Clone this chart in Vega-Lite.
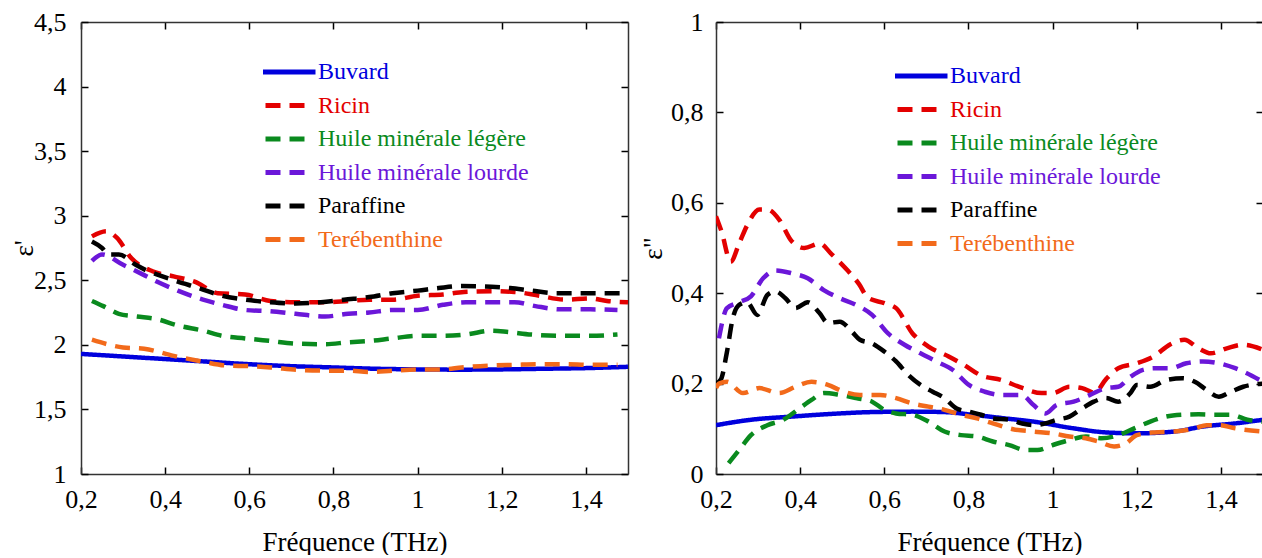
{
  "$schema": "https://vega.github.io/schema/vega-lite/v6.json",
  "padding": {"left": 10, "top": 9, "right": 0, "bottom": 0},
  "autosize": {"type": "pad"},
  "background": "white",
  "config": {
    "font": "Liberation Serif, Times New Roman, DejaVu Serif, serif",
    "view": {"stroke": null},
    "axis": {
      "grid": false,
      "tickColor": "#000",
      "tickWidth": 1.5,
      "tickSize": -7,
      "domainColor": "#333",
      "domainWidth": 1.5,
      "labelFont": "Liberation Serif, Times New Roman, DejaVu Serif, serif",
      "labelFontSize": 26,
      "labelColor": "#000",
      "titleFont": "Liberation Serif, Times New Roman, DejaVu Serif, serif",
      "titleFontSize": 27,
      "titleFontWeight": "normal",
      "titleColor": "#000",
      "labelFlush": false,
      "labelOverlap": false,
      "labelBound": false
    },
    "legend": {
      "labelFont": "Liberation Serif, Times New Roman, DejaVu Serif, serif",
      "labelFontSize": 24,
      "labelLimit": 500,
      "symbolType": "stroke",
      "symbolStrokeWidth": 5,
      "symbolSize": 400,
      "rowPadding": 9.5,
      "clipHeight": 24,
      "labelOffset": 8,
      "padding": 0,
      "title": null,
      "orient": "none"
    }
  },
  "datasets": {
    "e1": [
      {"s": "Buvard", "f": 0.2, "v": 1.93}, {"s": "Buvard", "f": 0.3, "v": 1.91}, {"s": "Buvard", "f": 0.4, "v": 1.89}, {"s": "Buvard", "f": 0.5, "v": 1.87}, {"s": "Buvard", "f": 0.6, "v": 1.85}, {"s": "Buvard", "f": 0.7, "v": 1.835}, {"s": "Buvard", "f": 0.8, "v": 1.825}, {"s": "Buvard", "f": 0.9, "v": 1.815}, {"s": "Buvard", "f": 1.0, "v": 1.81}, {"s": "Buvard", "f": 1.1, "v": 1.808}, {"s": "Buvard", "f": 1.2, "v": 1.81}, {"s": "Buvard", "f": 1.3, "v": 1.815}, {"s": "Buvard", "f": 1.4, "v": 1.82}, {"s": "Buvard", "f": 1.5, "v": 1.83},
      {"s": "Ricin", "f": 0.226, "v": 2.84}, {"s": "Ricin", "f": 0.26, "v": 2.88}, {"s": "Ricin", "f": 0.285, "v": 2.83}, {"s": "Ricin", "f": 0.32, "v": 2.67}, {"s": "Ricin", "f": 0.37, "v": 2.57}, {"s": "Ricin", "f": 0.42, "v": 2.53}, {"s": "Ricin", "f": 0.47, "v": 2.49}, {"s": "Ricin", "f": 0.525, "v": 2.4}, {"s": "Ricin", "f": 0.59, "v": 2.39}, {"s": "Ricin", "f": 0.65, "v": 2.34}, {"s": "Ricin", "f": 0.71, "v": 2.33}, {"s": "Ricin", "f": 0.78, "v": 2.33}, {"s": "Ricin", "f": 0.835, "v": 2.34}, {"s": "Ricin", "f": 0.885, "v": 2.35}, {"s": "Ricin", "f": 0.94, "v": 2.35}, {"s": "Ricin", "f": 1.0, "v": 2.38}, {"s": "Ricin", "f": 1.06, "v": 2.39}, {"s": "Ricin", "f": 1.11, "v": 2.41}, {"s": "Ricin", "f": 1.175, "v": 2.415}, {"s": "Ricin", "f": 1.23, "v": 2.41}, {"s": "Ricin", "f": 1.29, "v": 2.38}, {"s": "Ricin", "f": 1.35, "v": 2.35}, {"s": "Ricin", "f": 1.41, "v": 2.36}, {"s": "Ricin", "f": 1.45, "v": 2.34}, {"s": "Ricin", "f": 1.5, "v": 2.33},
      {"s": "Huile minérale légère", "f": 0.226, "v": 2.34}, {"s": "Huile minérale légère", "f": 0.253, "v": 2.3}, {"s": "Huile minérale légère", "f": 0.29, "v": 2.24}, {"s": "Huile minérale légère", "f": 0.33, "v": 2.22}, {"s": "Huile minérale légère", "f": 0.38, "v": 2.2}, {"s": "Huile minérale légère", "f": 0.43, "v": 2.15}, {"s": "Huile minérale légère", "f": 0.49, "v": 2.11}, {"s": "Huile minérale légère", "f": 0.535, "v": 2.07}, {"s": "Huile minérale légère", "f": 0.59, "v": 2.05}, {"s": "Huile minérale légère", "f": 0.65, "v": 2.03}, {"s": "Huile minérale légère", "f": 0.71, "v": 2.01}, {"s": "Huile minérale légère", "f": 0.78, "v": 2.005}, {"s": "Huile minérale légère", "f": 0.835, "v": 2.02}, {"s": "Huile minérale légère", "f": 0.885, "v": 2.03}, {"s": "Huile minérale légère", "f": 0.94, "v": 2.05}, {"s": "Huile minérale légère", "f": 1.0, "v": 2.07}, {"s": "Huile minérale légère", "f": 1.06, "v": 2.07}, {"s": "Huile minérale légère", "f": 1.115, "v": 2.08}, {"s": "Huile minérale légère", "f": 1.175, "v": 2.11}, {"s": "Huile minérale légère", "f": 1.215, "v": 2.1}, {"s": "Huile minérale légère", "f": 1.27, "v": 2.08}, {"s": "Huile minérale légère", "f": 1.35, "v": 2.07}, {"s": "Huile minérale légère", "f": 1.41, "v": 2.07}, {"s": "Huile minérale légère", "f": 1.475, "v": 2.08},
      {"s": "Huile minérale lourde", "f": 0.226, "v": 2.65}, {"s": "Huile minérale lourde", "f": 0.25, "v": 2.7}, {"s": "Huile minérale lourde", "f": 0.3, "v": 2.62}, {"s": "Huile minérale lourde", "f": 0.35, "v": 2.54}, {"s": "Huile minérale lourde", "f": 0.38, "v": 2.49}, {"s": "Huile minérale lourde", "f": 0.43, "v": 2.42}, {"s": "Huile minérale lourde", "f": 0.49, "v": 2.35}, {"s": "Huile minérale lourde", "f": 0.535, "v": 2.31}, {"s": "Huile minérale lourde", "f": 0.59, "v": 2.27}, {"s": "Huile minérale lourde", "f": 0.65, "v": 2.26}, {"s": "Huile minérale lourde", "f": 0.71, "v": 2.24}, {"s": "Huile minérale lourde", "f": 0.78, "v": 2.22}, {"s": "Huile minérale lourde", "f": 0.835, "v": 2.24}, {"s": "Huile minérale lourde", "f": 0.885, "v": 2.25}, {"s": "Huile minérale lourde", "f": 0.94, "v": 2.27}, {"s": "Huile minérale lourde", "f": 1.0, "v": 2.27}, {"s": "Huile minérale lourde", "f": 1.06, "v": 2.31}, {"s": "Huile minérale lourde", "f": 1.115, "v": 2.33}, {"s": "Huile minérale lourde", "f": 1.175, "v": 2.33}, {"s": "Huile minérale lourde", "f": 1.23, "v": 2.33}, {"s": "Huile minérale lourde", "f": 1.28, "v": 2.3}, {"s": "Huile minérale lourde", "f": 1.34, "v": 2.275}, {"s": "Huile minérale lourde", "f": 1.41, "v": 2.275}, {"s": "Huile minérale lourde", "f": 1.475, "v": 2.27},
      {"s": "Paraffine", "f": 0.226, "v": 2.8}, {"s": "Paraffine", "f": 0.25, "v": 2.75}, {"s": "Paraffine", "f": 0.265, "v": 2.7}, {"s": "Paraffine", "f": 0.29, "v": 2.7}, {"s": "Paraffine", "f": 0.33, "v": 2.62}, {"s": "Paraffine", "f": 0.36, "v": 2.57}, {"s": "Paraffine", "f": 0.385, "v": 2.54}, {"s": "Paraffine", "f": 0.43, "v": 2.49}, {"s": "Paraffine", "f": 0.48, "v": 2.44}, {"s": "Paraffine", "f": 0.535, "v": 2.38}, {"s": "Paraffine", "f": 0.59, "v": 2.35}, {"s": "Paraffine", "f": 0.65, "v": 2.33}, {"s": "Paraffine", "f": 0.71, "v": 2.32}, {"s": "Paraffine", "f": 0.77, "v": 2.33}, {"s": "Paraffine", "f": 0.825, "v": 2.35}, {"s": "Paraffine", "f": 0.885, "v": 2.37}, {"s": "Paraffine", "f": 0.94, "v": 2.4}, {"s": "Paraffine", "f": 1.0, "v": 2.42}, {"s": "Paraffine", "f": 1.05, "v": 2.44}, {"s": "Paraffine", "f": 1.105, "v": 2.455}, {"s": "Paraffine", "f": 1.175, "v": 2.45}, {"s": "Paraffine", "f": 1.22, "v": 2.44}, {"s": "Paraffine", "f": 1.27, "v": 2.42}, {"s": "Paraffine", "f": 1.33, "v": 2.4}, {"s": "Paraffine", "f": 1.39, "v": 2.4}, {"s": "Paraffine", "f": 1.45, "v": 2.4}, {"s": "Paraffine", "f": 1.5, "v": 2.4},
      {"s": "Terébenthine", "f": 0.226, "v": 2.04}, {"s": "Terébenthine", "f": 0.3, "v": 1.98}, {"s": "Terébenthine", "f": 0.35, "v": 1.97}, {"s": "Terébenthine", "f": 0.42, "v": 1.915}, {"s": "Terébenthine", "f": 0.49, "v": 1.87}, {"s": "Terébenthine", "f": 0.545, "v": 1.84}, {"s": "Terébenthine", "f": 0.6, "v": 1.835}, {"s": "Terébenthine", "f": 0.65, "v": 1.825}, {"s": "Terébenthine", "f": 0.72, "v": 1.805}, {"s": "Terébenthine", "f": 0.79, "v": 1.8}, {"s": "Terébenthine", "f": 0.835, "v": 1.8}, {"s": "Terébenthine", "f": 0.885, "v": 1.79}, {"s": "Terébenthine", "f": 0.94, "v": 1.8}, {"s": "Terébenthine", "f": 1.0, "v": 1.81}, {"s": "Terébenthine", "f": 1.06, "v": 1.81}, {"s": "Terébenthine", "f": 1.105, "v": 1.825}, {"s": "Terébenthine", "f": 1.175, "v": 1.84}, {"s": "Terébenthine", "f": 1.23, "v": 1.845}, {"s": "Terébenthine", "f": 1.29, "v": 1.85}, {"s": "Terébenthine", "f": 1.35, "v": 1.85}, {"s": "Terébenthine", "f": 1.41, "v": 1.845}, {"s": "Terébenthine", "f": 1.475, "v": 1.845}
    ],
    "e2": [
      {"s": "Buvard", "f": 0.2, "v": 0.108}, {"s": "Buvard", "f": 0.283, "v": 0.12}, {"s": "Buvard", "f": 0.38, "v": 0.127}, {"s": "Buvard", "f": 0.475, "v": 0.133}, {"s": "Buvard", "f": 0.571, "v": 0.137}, {"s": "Buvard", "f": 0.667, "v": 0.138}, {"s": "Buvard", "f": 0.743, "v": 0.137}, {"s": "Buvard", "f": 0.81, "v": 0.131}, {"s": "Buvard", "f": 0.887, "v": 0.123}, {"s": "Buvard", "f": 0.954, "v": 0.116}, {"s": "Buvard", "f": 1.05, "v": 0.101}, {"s": "Buvard", "f": 1.127, "v": 0.092}, {"s": "Buvard", "f": 1.2, "v": 0.09}, {"s": "Buvard", "f": 1.29, "v": 0.094}, {"s": "Buvard", "f": 1.357, "v": 0.105}, {"s": "Buvard", "f": 1.434, "v": 0.112}, {"s": "Buvard", "f": 1.5, "v": 0.12},
      {"s": "Ricin", "f": 0.2, "v": 0.57}, {"s": "Ricin", "f": 0.213, "v": 0.537}, {"s": "Ricin", "f": 0.235, "v": 0.47}, {"s": "Ricin", "f": 0.255, "v": 0.51}, {"s": "Ricin", "f": 0.274, "v": 0.55}, {"s": "Ricin", "f": 0.303, "v": 0.585}, {"s": "Ricin", "f": 0.322, "v": 0.585}, {"s": "Ricin", "f": 0.35, "v": 0.563}, {"s": "Ricin", "f": 0.38, "v": 0.515}, {"s": "Ricin", "f": 0.41, "v": 0.5}, {"s": "Ricin", "f": 0.446, "v": 0.51}, {"s": "Ricin", "f": 0.475, "v": 0.486}, {"s": "Ricin", "f": 0.513, "v": 0.45}, {"s": "Ricin", "f": 0.54, "v": 0.42}, {"s": "Ricin", "f": 0.561, "v": 0.39}, {"s": "Ricin", "f": 0.6, "v": 0.378}, {"s": "Ricin", "f": 0.628, "v": 0.367}, {"s": "Ricin", "f": 0.667, "v": 0.311}, {"s": "Ricin", "f": 0.705, "v": 0.282}, {"s": "Ricin", "f": 0.753, "v": 0.26}, {"s": "Ricin", "f": 0.79, "v": 0.241}, {"s": "Ricin", "f": 0.83, "v": 0.218}, {"s": "Ricin", "f": 0.878, "v": 0.208}, {"s": "Ricin", "f": 0.926, "v": 0.191}, {"s": "Ricin", "f": 0.974, "v": 0.179}, {"s": "Ricin", "f": 1.0, "v": 0.179}, {"s": "Ricin", "f": 1.04, "v": 0.193}, {"s": "Ricin", "f": 1.07, "v": 0.19}, {"s": "Ricin", "f": 1.1, "v": 0.18}, {"s": "Ricin", "f": 1.127, "v": 0.21}, {"s": "Ricin", "f": 1.156, "v": 0.234}, {"s": "Ricin", "f": 1.2, "v": 0.245}, {"s": "Ricin", "f": 1.24, "v": 0.26}, {"s": "Ricin", "f": 1.28, "v": 0.287}, {"s": "Ricin", "f": 1.313, "v": 0.297}, {"s": "Ricin", "f": 1.347, "v": 0.278}, {"s": "Ricin", "f": 1.376, "v": 0.267}, {"s": "Ricin", "f": 1.414, "v": 0.278}, {"s": "Ricin", "f": 1.453, "v": 0.286}, {"s": "Ricin", "f": 1.5, "v": 0.275},
      {"s": "Huile minérale légère", "f": 0.23, "v": 0.024}, {"s": "Huile minérale légère", "f": 0.255, "v": 0.053}, {"s": "Huile minérale légère", "f": 0.283, "v": 0.086}, {"s": "Huile minérale légère", "f": 0.322, "v": 0.108}, {"s": "Huile minérale légère", "f": 0.36, "v": 0.12}, {"s": "Huile minérale légère", "f": 0.398, "v": 0.145}, {"s": "Huile minérale légère", "f": 0.427, "v": 0.164}, {"s": "Huile minérale légère", "f": 0.456, "v": 0.179}, {"s": "Huile minérale légère", "f": 0.494, "v": 0.175}, {"s": "Huile minérale légère", "f": 0.533, "v": 0.168}, {"s": "Huile minérale légère", "f": 0.571, "v": 0.16}, {"s": "Huile minérale légère", "f": 0.6, "v": 0.142}, {"s": "Huile minérale légère", "f": 0.628, "v": 0.134}, {"s": "Huile minérale légère", "f": 0.667, "v": 0.131}, {"s": "Huile minérale légère", "f": 0.705, "v": 0.116}, {"s": "Huile minérale légère", "f": 0.743, "v": 0.094}, {"s": "Huile minérale légère", "f": 0.782, "v": 0.086}, {"s": "Huile minérale légère", "f": 0.82, "v": 0.083}, {"s": "Huile minérale légère", "f": 0.858, "v": 0.072}, {"s": "Huile minérale légère", "f": 0.897, "v": 0.064}, {"s": "Huile minérale légère", "f": 0.935, "v": 0.053}, {"s": "Huile minérale légère", "f": 0.964, "v": 0.053}, {"s": "Huile minérale légère", "f": 1.0, "v": 0.064}, {"s": "Huile minérale légère", "f": 1.04, "v": 0.075}, {"s": "Huile minérale légère", "f": 1.079, "v": 0.083}, {"s": "Huile minérale légère", "f": 1.117, "v": 0.079}, {"s": "Huile minérale légère", "f": 1.156, "v": 0.086}, {"s": "Huile minérale légère", "f": 1.194, "v": 0.101}, {"s": "Huile minérale légère", "f": 1.232, "v": 0.116}, {"s": "Huile minérale légère", "f": 1.27, "v": 0.127}, {"s": "Huile minérale légère", "f": 1.309, "v": 0.131}, {"s": "Huile minérale légère", "f": 1.347, "v": 0.132}, {"s": "Huile minérale légère", "f": 1.386, "v": 0.131}, {"s": "Huile minérale légère", "f": 1.424, "v": 0.131}, {"s": "Huile minérale légère", "f": 1.463, "v": 0.12}, {"s": "Huile minérale légère", "f": 1.5, "v": 0.116},
      {"s": "Huile minérale lourde", "f": 0.207, "v": 0.3}, {"s": "Huile minérale lourde", "f": 0.226, "v": 0.367}, {"s": "Huile minérale lourde", "f": 0.255, "v": 0.38}, {"s": "Huile minérale lourde", "f": 0.283, "v": 0.393}, {"s": "Huile minérale lourde", "f": 0.312, "v": 0.433}, {"s": "Huile minérale lourde", "f": 0.341, "v": 0.45}, {"s": "Huile minérale lourde", "f": 0.38, "v": 0.444}, {"s": "Huile minérale lourde", "f": 0.418, "v": 0.433}, {"s": "Huile minérale lourde", "f": 0.456, "v": 0.407}, {"s": "Huile minérale lourde", "f": 0.494, "v": 0.389}, {"s": "Huile minérale lourde", "f": 0.533, "v": 0.374}, {"s": "Huile minérale lourde", "f": 0.571, "v": 0.352}, {"s": "Huile minérale lourde", "f": 0.609, "v": 0.311}, {"s": "Huile minérale lourde", "f": 0.648, "v": 0.286}, {"s": "Huile minérale lourde", "f": 0.686, "v": 0.267}, {"s": "Huile minérale lourde", "f": 0.724, "v": 0.249}, {"s": "Huile minérale lourde", "f": 0.763, "v": 0.23}, {"s": "Huile minérale lourde", "f": 0.801, "v": 0.197}, {"s": "Huile minérale lourde", "f": 0.839, "v": 0.182}, {"s": "Huile minérale lourde", "f": 0.878, "v": 0.175}, {"s": "Huile minérale lourde", "f": 0.926, "v": 0.175}, {"s": "Huile minérale lourde", "f": 0.954, "v": 0.153}, {"s": "Huile minérale lourde", "f": 0.983, "v": 0.134}, {"s": "Huile minérale lourde", "f": 1.01, "v": 0.153}, {"s": "Huile minérale lourde", "f": 1.05, "v": 0.16}, {"s": "Huile minérale lourde", "f": 1.089, "v": 0.175}, {"s": "Huile minérale lourde", "f": 1.127, "v": 0.19}, {"s": "Huile minérale lourde", "f": 1.156, "v": 0.193}, {"s": "Huile minérale lourde", "f": 1.185, "v": 0.215}, {"s": "Huile minérale lourde", "f": 1.213, "v": 0.23}, {"s": "Huile minérale lourde", "f": 1.242, "v": 0.234}, {"s": "Huile minérale lourde", "f": 1.28, "v": 0.234}, {"s": "Huile minérale lourde", "f": 1.318, "v": 0.245}, {"s": "Huile minérale lourde", "f": 1.357, "v": 0.249}, {"s": "Huile minérale lourde", "f": 1.395, "v": 0.245}, {"s": "Huile minérale lourde", "f": 1.434, "v": 0.234}, {"s": "Huile minérale lourde", "f": 1.5, "v": 0.204},
      {"s": "Paraffine", "f": 0.2, "v": 0.2}, {"s": "Paraffine", "f": 0.212, "v": 0.21}, {"s": "Paraffine", "f": 0.226, "v": 0.27}, {"s": "Paraffine", "f": 0.24, "v": 0.345}, {"s": "Paraffine", "f": 0.255, "v": 0.374}, {"s": "Paraffine", "f": 0.274, "v": 0.38}, {"s": "Paraffine", "f": 0.298, "v": 0.352}, {"s": "Paraffine", "f": 0.322, "v": 0.396}, {"s": "Paraffine", "f": 0.341, "v": 0.404}, {"s": "Paraffine", "f": 0.365, "v": 0.389}, {"s": "Paraffine", "f": 0.389, "v": 0.367}, {"s": "Paraffine", "f": 0.418, "v": 0.38}, {"s": "Paraffine", "f": 0.446, "v": 0.356}, {"s": "Paraffine", "f": 0.466, "v": 0.334}, {"s": "Paraffine", "f": 0.494, "v": 0.337}, {"s": "Paraffine", "f": 0.523, "v": 0.315}, {"s": "Paraffine", "f": 0.542, "v": 0.297}, {"s": "Paraffine", "f": 0.571, "v": 0.289}, {"s": "Paraffine", "f": 0.6, "v": 0.271}, {"s": "Paraffine", "f": 0.628, "v": 0.249}, {"s": "Paraffine", "f": 0.657, "v": 0.219}, {"s": "Paraffine", "f": 0.686, "v": 0.197}, {"s": "Paraffine", "f": 0.715, "v": 0.182}, {"s": "Paraffine", "f": 0.743, "v": 0.168}, {"s": "Paraffine", "f": 0.772, "v": 0.145}, {"s": "Paraffine", "f": 0.801, "v": 0.138}, {"s": "Paraffine", "f": 0.83, "v": 0.131}, {"s": "Paraffine", "f": 0.858, "v": 0.123}, {"s": "Paraffine", "f": 0.897, "v": 0.12}, {"s": "Paraffine", "f": 0.926, "v": 0.112}, {"s": "Paraffine", "f": 0.954, "v": 0.108}, {"s": "Paraffine", "f": 0.983, "v": 0.112}, {"s": "Paraffine", "f": 1.01, "v": 0.12}, {"s": "Paraffine", "f": 1.04, "v": 0.127}, {"s": "Paraffine", "f": 1.07, "v": 0.145}, {"s": "Paraffine", "f": 1.098, "v": 0.16}, {"s": "Paraffine", "f": 1.127, "v": 0.168}, {"s": "Paraffine", "f": 1.156, "v": 0.16}, {"s": "Paraffine", "f": 1.185, "v": 0.179}, {"s": "Paraffine", "f": 1.2, "v": 0.197}, {"s": "Paraffine", "f": 1.232, "v": 0.193}, {"s": "Paraffine", "f": 1.27, "v": 0.208}, {"s": "Paraffine", "f": 1.309, "v": 0.212}, {"s": "Paraffine", "f": 1.338, "v": 0.204}, {"s": "Paraffine", "f": 1.366, "v": 0.186}, {"s": "Paraffine", "f": 1.395, "v": 0.171}, {"s": "Paraffine", "f": 1.424, "v": 0.182}, {"s": "Paraffine", "f": 1.453, "v": 0.193}, {"s": "Paraffine", "f": 1.5, "v": 0.2},
      {"s": "Terébenthine", "f": 0.2, "v": 0.19}, {"s": "Terébenthine", "f": 0.207, "v": 0.2}, {"s": "Terébenthine", "f": 0.226, "v": 0.204}, {"s": "Terébenthine", "f": 0.264, "v": 0.179}, {"s": "Terébenthine", "f": 0.303, "v": 0.19}, {"s": "Terébenthine", "f": 0.35, "v": 0.179}, {"s": "Terébenthine", "f": 0.389, "v": 0.193}, {"s": "Terébenthine", "f": 0.427, "v": 0.204}, {"s": "Terébenthine", "f": 0.466, "v": 0.197}, {"s": "Terébenthine", "f": 0.504, "v": 0.182}, {"s": "Terébenthine", "f": 0.542, "v": 0.175}, {"s": "Terébenthine", "f": 0.59, "v": 0.175}, {"s": "Terébenthine", "f": 0.628, "v": 0.168}, {"s": "Terébenthine", "f": 0.667, "v": 0.156}, {"s": "Terébenthine", "f": 0.705, "v": 0.149}, {"s": "Terébenthine", "f": 0.743, "v": 0.142}, {"s": "Terébenthine", "f": 0.782, "v": 0.131}, {"s": "Terébenthine", "f": 0.82, "v": 0.123}, {"s": "Terébenthine", "f": 0.858, "v": 0.112}, {"s": "Terébenthine", "f": 0.906, "v": 0.099}, {"s": "Terébenthine", "f": 0.954, "v": 0.094}, {"s": "Terébenthine", "f": 1.0, "v": 0.09}, {"s": "Terébenthine", "f": 1.04, "v": 0.083}, {"s": "Terébenthine", "f": 1.079, "v": 0.079}, {"s": "Terébenthine", "f": 1.108, "v": 0.072}, {"s": "Terébenthine", "f": 1.146, "v": 0.061}, {"s": "Terébenthine", "f": 1.175, "v": 0.068}, {"s": "Terébenthine", "f": 1.2, "v": 0.086}, {"s": "Terébenthine", "f": 1.242, "v": 0.092}, {"s": "Terébenthine", "f": 1.29, "v": 0.094}, {"s": "Terébenthine", "f": 1.338, "v": 0.101}, {"s": "Terébenthine", "f": 1.366, "v": 0.108}, {"s": "Terébenthine", "f": 1.395, "v": 0.108}, {"s": "Terébenthine", "f": 1.434, "v": 0.101}, {"s": "Terébenthine", "f": 1.5, "v": 0.094}
    ]
  },
  "spacing": 88,
  "bounds": "flush",
  "resolve": {
    "scale": {"color": "independent", "strokeDash": "independent"},
    "legend": {"color": "independent", "strokeDash": "independent"}
  },
  "hconcat": [
    {
      "width": 547,
      "height": 452,
      "data": {"name": "e1"},
      "layer": [
        {
          "mark": {"type": "line", "strokeWidth": 4.5, "interpolate": "monotone", "clip": true},
          "encoding": {
            "x": {"field": "f", "type": "quantitative", "scale": {"domain": [0.2, 1.5], "nice": false, "zero": false},
                  "axis": {"orient": "bottom", "values": [0.2, 0.4, 0.6, 0.8, 1, 1.2, 1.4], "labelExpr": "replace(format(datum.value, '~g'), '.', ',')", "labelPadding": 19, "title": "Fréquence (THz)", "titleBaseline": "alphabetic", "titleY": 76}},
            "y": {"field": "v", "type": "quantitative", "scale": {"domain": [1, 4.5], "nice": false, "zero": false},
                  "axis": {"orient": "left", "values": [1, 1.5, 2, 2.5, 3, 3.5, 4, 4.5], "labelExpr": "replace(format(datum.value, '~g'), '.', ',')", "labelPadding": 22, "title": "ε'", "titleAngle": -90, "titleBaseline": "alphabetic", "titleAlign": "center", "titleX": -49, "titleY": 226}},
            "color": {"field": "s", "type": "nominal",
                      "scale": {"domain": ["Buvard", "Ricin", "Huile minérale légère", "Huile minérale lourde", "Paraffine", "Terébenthine"], "range": ["#0000dd", "#e30000", "#0a8a1e", "#6b17d9", "#000000", "#f26a1b"]},
                      "legend": {"legendX": 182, "legendY": 38,
                                 "encode": {"symbols": {"update": {"size": {"signal": "datum.value === 'Buvard' ? 3364 : 1764"}}},
                                            "labels": {"update": {"fill": {"signal": "datum.value === 'Buvard' ? '#0000dd' : datum.value === 'Ricin' ? '#e30000' : datum.value === 'Huile minérale légère' ? '#0a8a1e' : datum.value === 'Huile minérale lourde' ? '#6b17d9' : datum.value === 'Paraffine' ? '#000000' : '#f26a1b'"}}}}}},
            "strokeDash": {"field": "s", "type": "nominal",
                      "scale": {"domain": ["Buvard", "Ricin", "Huile minérale légère", "Huile minérale lourde", "Paraffine", "Terébenthine"], "range": [[1, 0], [15, 9], [15, 9], [15, 9], [15, 9], [15, 9]]},
                      "legend": {"legendX": 182, "legendY": 38,
                                 "encode": {"symbols": {"update": {"size": {"signal": "datum.value === 'Buvard' ? 3364 : 1764"}}},
                                            "labels": {"update": {"fill": {"signal": "datum.value === 'Buvard' ? '#0000dd' : datum.value === 'Ricin' ? '#e30000' : datum.value === 'Huile minérale légère' ? '#0a8a1e' : datum.value === 'Huile minérale lourde' ? '#6b17d9' : datum.value === 'Paraffine' ? '#000000' : '#f26a1b'"}}}}}}
          }
        },
        {
          "mark": {"type": "line", "opacity": 0},
          "encoding": {
            "x": {"field": "f", "type": "quantitative", "axis": {"orient": "top", "values": [0.2, 0.4, 0.6, 0.8, 1, 1.2, 1.4], "labels": false, "title": null}},
            "y": {"field": "v", "type": "quantitative", "axis": {"orient": "right", "values": [1, 1.5, 2, 2.5, 3, 3.5, 4, 4.5], "labels": false, "title": null}},
            "detail": {"field": "s", "type": "nominal"}
          }
        }
      ],
      "resolve": {"axis": {"x": "independent", "y": "independent"}}
    },
    {
      "width": 547,
      "height": 452,
      "data": {"name": "e2"},
      "layer": [
        {
          "mark": {"type": "line", "strokeWidth": 4.5, "interpolate": "monotone", "clip": true},
          "encoding": {
            "x": {"field": "f", "type": "quantitative", "scale": {"domain": [0.2, 1.5], "nice": false, "zero": false},
                  "axis": {"orient": "bottom", "values": [0.2, 0.4, 0.6, 0.8, 1, 1.2, 1.4], "labelExpr": "replace(format(datum.value, '~g'), '.', ',')", "labelPadding": 19, "title": "Fréquence (THz)", "titleBaseline": "alphabetic", "titleY": 76}},
            "y": {"field": "v", "type": "quantitative", "scale": {"domain": [0, 1], "nice": false, "zero": false},
                  "axis": {"orient": "left", "values": [0, 0.2, 0.4, 0.6, 0.8, 1], "labelExpr": "replace(format(datum.value, '~g'), '.', ',')", "labelPadding": 20, "title": "ε\"", "titleAngle": -90, "titleBaseline": "alphabetic", "titleAlign": "center", "titleX": -55, "titleY": 226}},
            "color": {"field": "s", "type": "nominal",
                      "scale": {"domain": ["Buvard", "Ricin", "Huile minérale légère", "Huile minérale lourde", "Paraffine", "Terébenthine"], "range": ["#0000dd", "#e30000", "#0a8a1e", "#6b17d9", "#000000", "#f26a1b"]},
                      "legend": {"legendX": 179, "legendY": 42,
                                 "encode": {"symbols": {"update": {"size": {"signal": "datum.value === 'Buvard' ? 3364 : 1764"}}},
                                            "labels": {"update": {"fill": {"signal": "datum.value === 'Buvard' ? '#0000dd' : datum.value === 'Ricin' ? '#e30000' : datum.value === 'Huile minérale légère' ? '#0a8a1e' : datum.value === 'Huile minérale lourde' ? '#6b17d9' : datum.value === 'Paraffine' ? '#000000' : '#f26a1b'"}}}}}},
            "strokeDash": {"field": "s", "type": "nominal",
                      "scale": {"domain": ["Buvard", "Ricin", "Huile minérale légère", "Huile minérale lourde", "Paraffine", "Terébenthine"], "range": [[1, 0], [15, 9], [15, 9], [15, 9], [15, 9], [15, 9]]},
                      "legend": {"legendX": 179, "legendY": 42,
                                 "encode": {"symbols": {"update": {"size": {"signal": "datum.value === 'Buvard' ? 3364 : 1764"}}},
                                            "labels": {"update": {"fill": {"signal": "datum.value === 'Buvard' ? '#0000dd' : datum.value === 'Ricin' ? '#e30000' : datum.value === 'Huile minérale légère' ? '#0a8a1e' : datum.value === 'Huile minérale lourde' ? '#6b17d9' : datum.value === 'Paraffine' ? '#000000' : '#f26a1b'"}}}}}}
          }
        },
        {
          "mark": {"type": "line", "opacity": 0},
          "encoding": {
            "x": {"field": "f", "type": "quantitative", "axis": {"orient": "top", "values": [0.2, 0.4, 0.6, 0.8, 1, 1.2, 1.4], "labels": false, "title": null}},
            "y": {"field": "v", "type": "quantitative", "axis": {"orient": "right", "values": [0, 0.2, 0.4, 0.6, 0.8, 1], "labels": false, "title": null}},
            "detail": {"field": "s", "type": "nominal"}
          }
        }
      ],
      "resolve": {"axis": {"x": "independent", "y": "independent"}}
    }
  ]
}
